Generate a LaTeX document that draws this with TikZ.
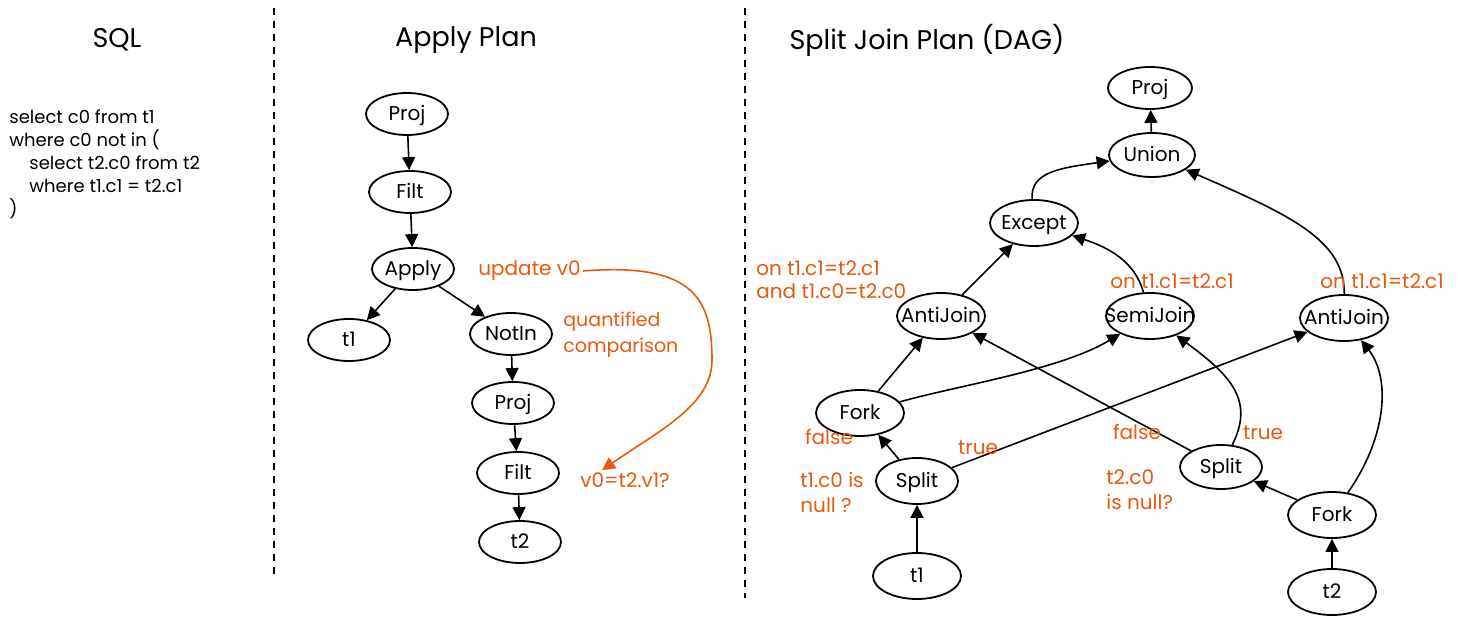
\documentclass[tikz,border=0pt]{standalone}
\usepackage{fontspec}
\setmainfont{Poppins}
\usepackage{xcolor}
\usetikzlibrary{shapes}
\usetikzlibrary{arrows.meta}
\definecolor{orng}{HTML}{E8590C}

\begin{document}
\begin{tikzpicture}[x=0.5pt,y=-0.5pt,
    op/.style={draw, ellipse, line width=0.9pt, inner xsep=-8pt, inner ysep=0pt, minimum width=41pt, minimum height=21pt, text height=7pt, text depth=0pt, font=\fontsize{10}{12}\selectfont},
    dop/.style={op, minimum width=44pt, minimum height=23pt},
    note/.style={text=orng, inner sep=1pt, font=\fontsize{10}{12.5}\selectfont},
    arr/.style={line width=0.8pt, -{Triangle[length=6.5pt,width=6.5pt]}},
    title/.style={font=\fontsize{13.5}{16}\selectfont}]
            \useasboundingbox (0,0) rectangle (1458,624);
            %separators
            \foreach \x/\y in {274/580, 745/598} {
                \draw [dashed, dash pattern=on 3.5pt off 3pt, line width=0.6pt] (\x, 8) -- (\x, \y);
            }
            %titles
            \node[title] (tsql) at (117,40) {SQL};
            \node[title] (tapply) at (466,40) {Apply Plan};
            \node[title] (tdag) at (927,40) {Split Join Plan (DAG)};
            %
            %SQL
            \node[anchor=west, align=left, inner sep=0pt, font=\fontsize{9}{11.5}\selectfont] (sql) at (9,164) {select c0 from t1\\where c0 not in (\\\hspace*{10pt}select t2.c0 from t2\\\hspace*{10pt}where t1.c1 = t2.c1\\)};
            %
            %Apply plan
            \node[op] (aproj) at (407,114) {Proj};
            \node[op] (afilt) at (410,192) {Filt};
            \node[op] (apply) at (413,269) {Apply};
            \node[op] (at1) at (349,340) {t1};
            \node[op] (notin) at (511,334) {NotIn};
            \node[op] (aproj2) at (513,403) {Proj};
            \node[op] (afilt2) at (518,473) {Filt};
            \node[op] (at2) at (520,542) {t2};
            \draw[arr] (aproj) -- (afilt);
            \draw[arr] (afilt) -- (apply);
            \draw[arr] (apply) -- (at1);
            \draw[arr] (apply) -- (notin);
            \draw[arr] (notin) -- (aproj2);
            \draw[arr] (aproj2) -- (afilt2);
            \draw[arr] (afilt2) -- (at2);
            %notes
            \node[note, anchor=west] (upd) at (476,271) {update v0};
            \node[note, anchor=west, align=left, font=\fontsize{9.5}{13}\selectfont] (quant) at (561,335) {quantified\\comparison};
            \node[note, anchor=west] (vq) at (578,480) {v0=t2.v1?};
            \draw[orng, arr] (upd.east) .. controls (695,262) and (712,300) .. (712,360) .. controls (712,405) and (660,430) .. ([xshift=12pt]vq.north west);
            %
            %Split join plan
            \node[dop, minimum width=42pt, minimum height=21pt] (dproj) at (1150,88) {Proj};
            \node[dop, minimum width=43pt, minimum height=22pt] (union) at (1152,155) {Union};
            \node[dop] (except) at (1034,223) {Except};
            \node[dop] (anti1) at (941,316) {AntiJoin};
            \node[dop] (semi) at (1150,316) {SemiJoin};
            \node[dop] (anti2) at (1344,318) {AntiJoin};
            \node[dop] (fork1) at (860,413) {Fork};
            \node[dop, minimum width=41pt] (split1) at (917,481) {Split};
            \node[dop] (dt1) at (917,576) {t1};
            \node[dop, minimum width=41pt, minimum height=22pt] (split2) at (1221,467) {Split};
            \node[dop] (fork2) at (1332,515) {Fork};
            \node[dop] (dt2) at (1332,592) {t2};
            %edges
            \draw[arr] (union) -- (dproj);
            \draw[arr] (except) .. controls (1030,172) and (1060,168) .. (union);
            \draw[arr] (anti2) .. controls (1345,240) and (1290,215) .. (union);
            \draw[arr] (anti1) -- (except);
            \draw[arr] (semi) .. controls (1135,262) and (1110,248) .. (except);
            \draw[arr] (fork1) -- (anti1);
            \draw[arr] (fork1) .. controls (960,385) and (1060,370) .. (semi);
            \draw[arr] (split1) -- (fork1);
            \draw[arr] (split1) -- (anti2);
            \draw[arr] (split2) -- (anti1);
            \draw[arr] (split2) .. controls (1255,400) and (1230,375) .. (semi);
            \draw[arr] (fork2) -- (split2);
            \draw[arr] (fork2) .. controls (1385,440) and (1392,380) .. (anti2);
            \draw[arr] (dt1) -- (split1);
            \draw[arr] (dt2) -- (fork2);
            %conditions
            \node[note, anchor=west, align=left, font=\fontsize{10}{11.5}\selectfont] (cond1) at (754,280) {on t1.c1=t2.c1\\and t1.c0=t2.c0};
            \node[note, anchor=west] (cond2) at (1108,281) {on t1.c1=t2.c1};
            \node[note, anchor=west] (cond3) at (1318,281) {on t1.c1=t2.c1};
            \node[note, anchor=west, align=left] (nul1) at (798,492) {t1.c0 is\\null ?};
            \node[note, anchor=west, align=left] (nul2) at (1104,490) {t2.c0\\is null?};
            \node[note] (f1) at (829,437) {false};
            \node[note] (tr1) at (978,448) {true};
            \node[note] (f2) at (1137,432) {false};
            \node[note] (tr2) at (1263,433) {true};
            %
        \end{tikzpicture}
\end{document}
